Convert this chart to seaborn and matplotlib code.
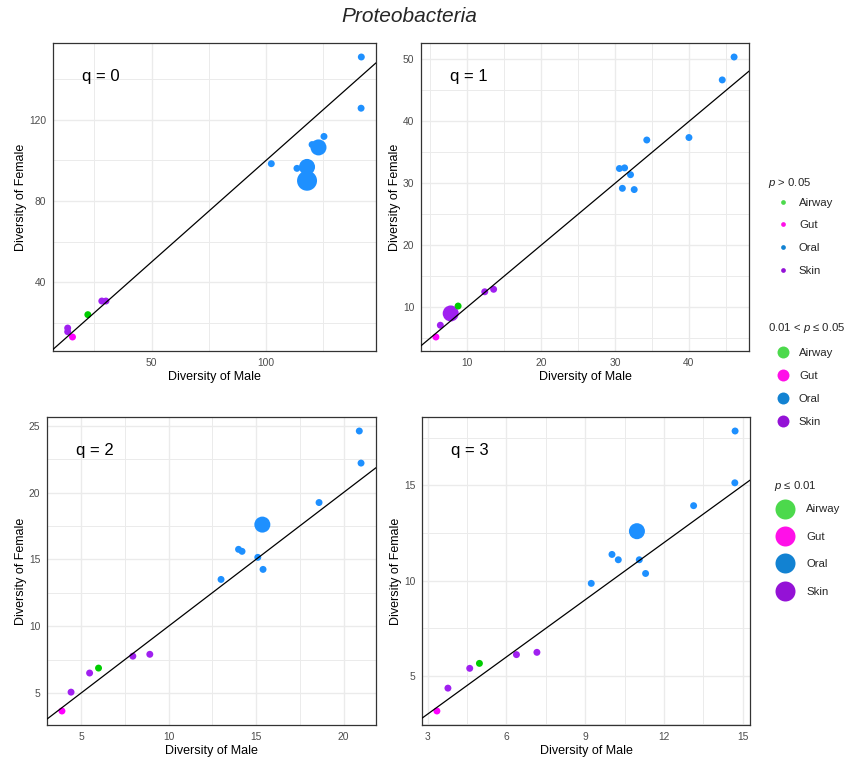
import matplotlib
matplotlib.use("Agg")
import matplotlib.pyplot as plt
from matplotlib.lines import Line2D
from matplotlib.ticker import MultipleLocator
import numpy as np
import pandas as pd
import seaborn as sns

# ---- data -------------------------------------------------------------
sites = ["Skin", "Skin", "Skin", "Skin", "Gut", "Airway",
         "Oral", "Oral", "Oral", "Oral", "Oral", "Oral", "Oral", "Oral", "Oral"]

male_q0 = [13.4, 13.4, 28.3, 30.1, 15.5, 22.2,
           141.6, 141.5, 125.3, 120.1, 102.3, 113.5, 122.9, 117.9, 117.9]
female_q0 = [17.5, 15.7, 30.8, 30.8, 13.1, 24.1,
             150.9, 125.7, 111.8, 107.8, 98.4, 96.1, 106.4, 96.8, 90.0]
sig_q0 = ["ns", "ns", "ns", "ns", "ns", "ns",
          "ns", "ns", "ns", "ns", "ns", "ns", "mid", "mid", "high"]

male_q1 = [6.4, 7.8, 12.4, 13.6, 5.8, 8.8,
           30.6, 31.3, 32.1, 31.0, 32.6, 34.3, 40.0, 44.5, 46.1]
female_q1 = [7.1, 9.0, 12.5, 12.9, 5.2, 10.2,
             32.4, 32.5, 31.4, 29.2, 29.0, 37.0, 37.4, 46.7, 50.4]
sig_q1 = ["ns", "mid", "ns", "ns", "ns", "ns",
          "ns", "ns", "ns", "ns", "ns", "ns", "ns", "ns", "ns"]

male_q2 = [4.43, 5.49, 7.96, 8.93, 3.91, 6.0,
           13.0, 14.0, 14.2, 15.1, 15.4, 15.36, 18.6, 20.9, 21.0]
female_q2 = [5.07, 6.5, 7.76, 7.9, 3.66, 6.87,
             13.5, 15.75, 15.6, 15.15, 14.25, 17.6, 19.25, 24.6, 22.2]
sig_q2 = ["ns", "ns", "ns", "ns", "ns", "ns",
          "ns", "ns", "ns", "ns", "ns", "mid", "ns", "ns", "ns"]

male_q3 = [3.77, 4.6, 6.38, 7.16, 3.35, 4.97,
           9.23, 10.02, 10.26, 11.06, 11.3, 10.97, 13.13, 14.7, 14.71]
female_q3 = [4.36, 5.4, 6.12, 6.24, 3.16, 5.66,
             9.86, 11.38, 11.1, 11.1, 10.38, 12.6, 13.94, 15.14, 17.86]
sig_q3 = ["ns", "ns", "ns", "ns", "ns", "ns",
          "ns", "ns", "ns", "ns", "ns", "mid", "ns", "ns", "ns"]

site_order = ["Airway", "Gut", "Oral", "Skin"]
point_colors = {"Airway": "#00CD00", "Gut": "#FF00FF", "Oral": "#1E90FF", "Skin": "#A020F0"}
key_colors = {"Airway": "#4CD94C", "Gut": "#FF10E8", "Oral": "#1282D2", "Skin": "#9412D6"}
sig_sizes = {"ns": 25, "mid": 133, "high": 207}

panels = [
    ("q = 0", male_q0, female_q0, sig_q0, 50, 40),
    ("q = 1", male_q1, female_q1, sig_q1, 10, 10),
    ("q = 2", male_q2, female_q2, sig_q2, 5, 5),
    ("q = 3", male_q3, female_q3, sig_q3, 3, 5),
]

# ---- style ------------------------------------------------------------
sns.set_style("white")
plt.rcParams["font.family"] = ["Liberation Sans", "DejaVu Sans"]
plt.rcParams["mathtext.fontset"] = "custom"
plt.rcParams["mathtext.it"] = "Liberation Sans:italic"
plt.rcParams["mathtext.rm"] = "Liberation Sans"

W, H = 852, 760
fig = plt.figure(figsize=(W / 100, H / 100), dpi=100)

# axes boxes in pixels: left, top, right, bottom
boxes = [(53, 43, 376, 351), (421, 43, 749, 351),
         (47, 417, 376, 725), (422, 417, 750, 725)]


def expand(vals, f=0.05):
    lo, hi = min(vals), max(vals)
    d = (hi - lo) * f
    return lo - d, hi + d


for (label, mx, fy, sig, xstep, ystep), (l, t, r, b) in zip(panels, boxes):
    ax = fig.add_axes([l / W, 1 - b / H, (r - l) / W, (b - t) / H])
    df = pd.DataFrame({"male": mx, "female": fy, "site": sites, "sig": sig})
    sns.scatterplot(data=df, x="male", y="female", hue="site", size="sig",
                    palette=point_colors, hue_order=site_order,
                    sizes=sig_sizes, size_order=["ns", "mid", "high"],
                    linewidth=0, alpha=1, legend=False, ax=ax, zorder=3)
    ax.axline((0, 0), slope=1, color="black", lw=0.9, zorder=4)
    ax.set_xlim(*expand(mx))
    ax.set_ylim(*expand(fy))
    ax.xaxis.set_major_locator(MultipleLocator(xstep))
    ax.xaxis.set_minor_locator(MultipleLocator(xstep / 2))
    ax.yaxis.set_major_locator(MultipleLocator(ystep))
    ax.yaxis.set_minor_locator(MultipleLocator(ystep / 2))
    ax.grid(True, which="major", color="#EBEBEB", lw=1.0, zorder=0)
    ax.grid(True, which="minor", color="#EBEBEB", lw=0.7, zorder=0)
    ax.set_axisbelow(True)
    ax.tick_params(which="major", length=2.75, width=0.7, color="#333333",
                   labelsize=7.4, labelcolor="#4D4D4D", pad=2)
    ax.tick_params(which="minor", length=0)
    for sp in ax.spines.values():
        sp.set_color("#333333")
        sp.set_linewidth(0.9)
    ax.set_xlabel("Diversity of Male", fontsize=9, color="black", labelpad=2.5)
    ax.set_ylabel("Diversity of Female", fontsize=9, color="black", labelpad=1.5)
    ax.text(0.147, 0.89, label, transform=ax.transAxes, ha="center",
            va="center", fontsize=12, color="black")

fig.text(409 / W, 1 - 16 / H, "Proteobacteria", ha="center", va="center",
         fontsize=15, style="italic")

# ---- keys for significance level and body site ------------------------
# title, marker size, title x, title y, key x, key top, handlelength, textpad, spacing
key_groups = [
    ("$p$ > 0.05", 3.4, 768, 183, 768, 197.5, 2.6, 0.12, 1.13),
    ("0.01 < $p$ ≤ 0.05", 8.6, 768, 328, 768, 347.5, 2.6, 0.12, 1.15),
    ("$p$ ≤ 0.01", 14.4, 774, 486, 774, 504.5, 1.88, 0.93, 1.53),
]
for title, ms, tx, ty, lx, ly, hl, htp, ls in key_groups:
    fig.text(tx / W, 1 - ty / H, title, ha="left", va="center", fontsize=8.2)
    handles = [Line2D([], [], marker="o", linestyle="", markersize=ms,
                      markerfacecolor=key_colors[s], markeredgewidth=0)
               for s in site_order]
    fig.legend(handles, site_order, loc="upper left",
               bbox_to_anchor=(lx / W, 1 - ly / H), frameon=False,
               fontsize=8.2, borderpad=0, borderaxespad=0,
               handlelength=hl, handletextpad=htp, labelspacing=ls)

fig.savefig("out.png", dpi=100)
